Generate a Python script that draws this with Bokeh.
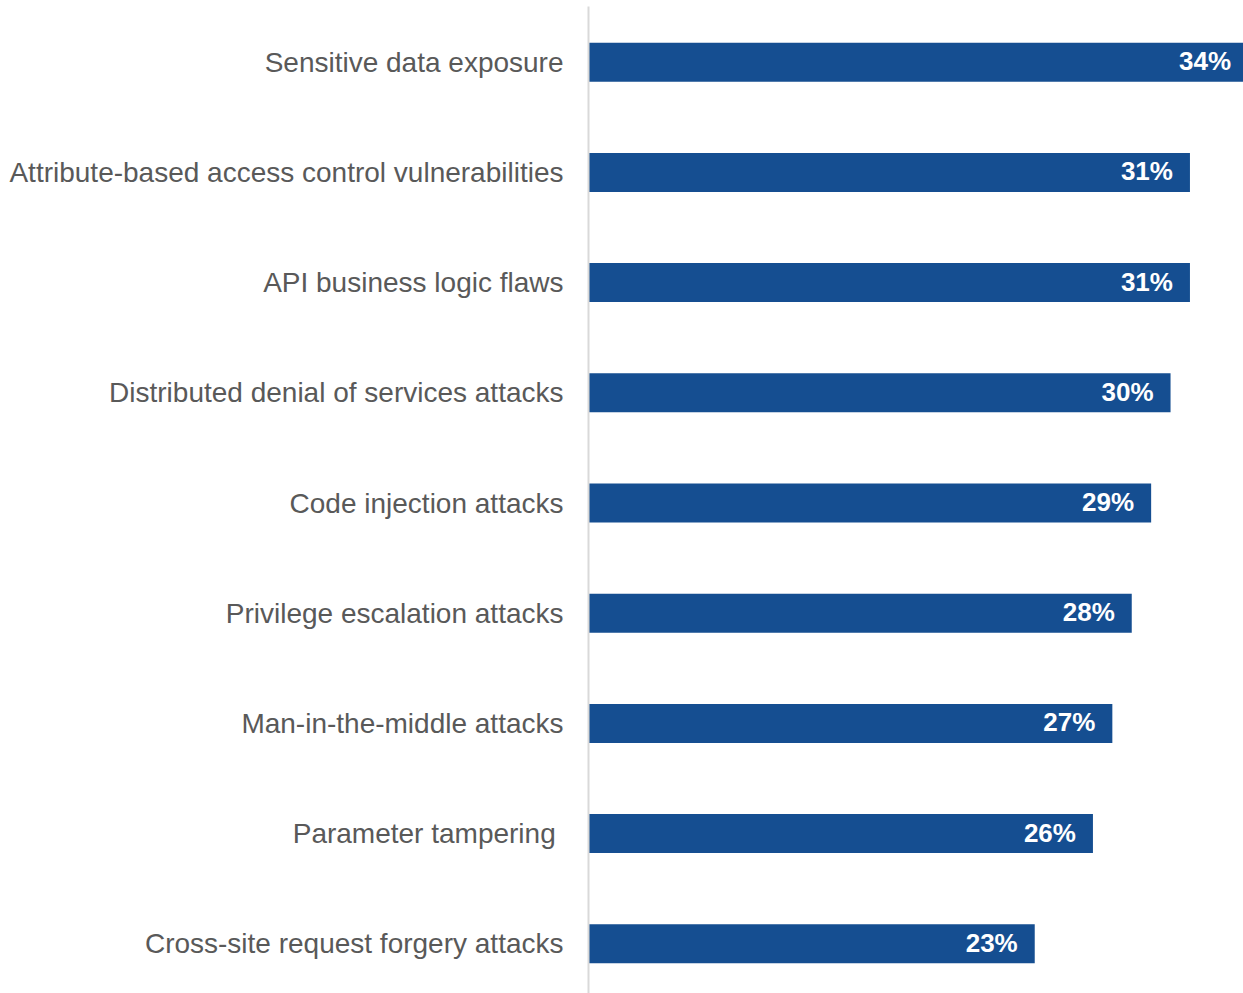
from bokeh.plotting import figure
from bokeh.models import Range1d, ColumnDataSource, FixedTicker
from bokeh.core.properties import value
from bokeh.embed import file_html
from bokeh.resources import INLINE

categories = [
    "Sensitive data exposure",
    "Attribute-based access control vulnerabilities",
    "API business logic flaws",
    "Distributed denial of services attacks",
    "Code injection attacks",
    "Privilege escalation attacks",
    "Man-in-the-middle attacks",
    "Parameter tampering\u00a0",
    "Cross-site request forgery attacks",
]
values = [34, 31, 31, 30, 29, 28, 27, 26, 23]
value_labels = ["34%", "31%", "31%", "30%", "29%", "28%", "27%", "26%", "23%"]

n = len(categories)
ypos = [n - 1 - i for i in range(n)]

src = ColumnDataSource(dict(y=ypos, v=values, lab=value_labels))

p = figure(width=1243, height=993, output_backend="svg", toolbar_location=None,
           x_range=Range1d(0, 33.76), y_range=Range1d(-0.451, 8.560),
           min_border_left=588, min_border_right=0, min_border_top=0, min_border_bottom=0)
p.outline_line_color = None
p.xgrid.visible = False
p.ygrid.visible = False
p.xaxis.visible = False

p.hbar(y="y", left=0, right="v", height=0.354, source=src,
       fill_color="#154E91", line_color=None)

p.text(x="v", y="y", text="lab", source=src, x_offset=-17, y_offset=-1,
       text_align="right", text_baseline="middle",
       text_font=value("Liberation Sans"), text_font_style="bold",
       text_font_size="26px", text_color="white")

ax = p.yaxis[0]
ax.ticker = FixedTicker(ticks=ypos)
ax.major_label_overrides = {y: c for y, c in zip(ypos, categories)}
ax.major_label_text_font = "Liberation Sans"
ax.major_label_text_font_size = "28px"
ax.major_label_text_color = "#595959"
ax.major_label_standoff = 25
ax.major_tick_out = 0
ax.major_tick_in = 0
ax.minor_tick_out = 0
ax.minor_tick_in = 0
ax.major_tick_line_color = None
ax.minor_tick_line_color = None
ax.axis_line_color = "#D9D9D9"
ax.axis_line_width = 2
ax.bounds = (-0.451, 8.506)

open("out.html", "w").write(file_html(p, INLINE))
